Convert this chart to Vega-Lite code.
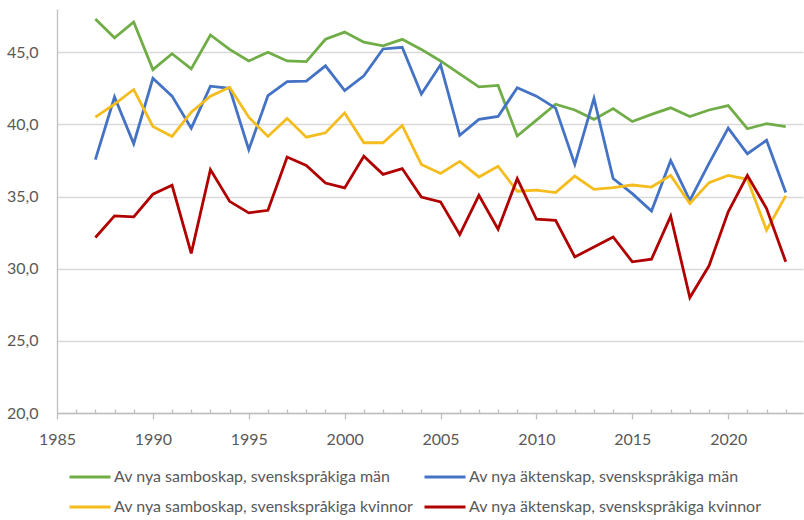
{
  "$schema": "https://vega.github.io/schema/vega-lite/v6.json",
  "width": 746,
  "height": 404,
  "autosize": {"type": "none"},
  "padding": {"left": 57, "top": 9, "right": 1, "bottom": 107},
  "background": "white",
  "config": {
    "view": {"stroke": null},
    "font": "Lato",
    "axis": {"labelFont": "Lato", "labelFontSize": 16, "labelColor": "#595959", "title": null}
  },
  "data": {
    "values": [
      {"year":1987,"serie":"Av nya samboskap, svenskspråkiga män","value":47.3},
      {"year":1988,"serie":"Av nya samboskap, svenskspråkiga män","value":46.0},
      {"year":1989,"serie":"Av nya samboskap, svenskspråkiga män","value":47.1},
      {"year":1990,"serie":"Av nya samboskap, svenskspråkiga män","value":43.8},
      {"year":1991,"serie":"Av nya samboskap, svenskspråkiga män","value":44.9},
      {"year":1992,"serie":"Av nya samboskap, svenskspråkiga män","value":43.85},
      {"year":1993,"serie":"Av nya samboskap, svenskspråkiga män","value":46.2},
      {"year":1994,"serie":"Av nya samboskap, svenskspråkiga män","value":45.2},
      {"year":1995,"serie":"Av nya samboskap, svenskspråkiga män","value":44.4},
      {"year":1996,"serie":"Av nya samboskap, svenskspråkiga män","value":45.0},
      {"year":1997,"serie":"Av nya samboskap, svenskspråkiga män","value":44.4},
      {"year":1998,"serie":"Av nya samboskap, svenskspråkiga män","value":44.35},
      {"year":1999,"serie":"Av nya samboskap, svenskspråkiga män","value":45.9},
      {"year":2000,"serie":"Av nya samboskap, svenskspråkiga män","value":46.4},
      {"year":2001,"serie":"Av nya samboskap, svenskspråkiga män","value":45.7},
      {"year":2002,"serie":"Av nya samboskap, svenskspråkiga män","value":45.45},
      {"year":2003,"serie":"Av nya samboskap, svenskspråkiga män","value":45.9},
      {"year":2004,"serie":"Av nya samboskap, svenskspråkiga män","value":45.2},
      {"year":2005,"serie":"Av nya samboskap, svenskspråkiga män","value":44.4},
      {"year":2006,"serie":"Av nya samboskap, svenskspråkiga män","value":43.5},
      {"year":2007,"serie":"Av nya samboskap, svenskspråkiga män","value":42.6},
      {"year":2008,"serie":"Av nya samboskap, svenskspråkiga män","value":42.7},
      {"year":2009,"serie":"Av nya samboskap, svenskspråkiga män","value":39.2},
      {"year":2010,"serie":"Av nya samboskap, svenskspråkiga män","value":40.3},
      {"year":2011,"serie":"Av nya samboskap, svenskspråkiga män","value":41.4},
      {"year":2012,"serie":"Av nya samboskap, svenskspråkiga män","value":41.0},
      {"year":2013,"serie":"Av nya samboskap, svenskspråkiga män","value":40.35},
      {"year":2014,"serie":"Av nya samboskap, svenskspråkiga män","value":41.1},
      {"year":2015,"serie":"Av nya samboskap, svenskspråkiga män","value":40.2},
      {"year":2016,"serie":"Av nya samboskap, svenskspråkiga män","value":40.7},
      {"year":2017,"serie":"Av nya samboskap, svenskspråkiga män","value":41.15},
      {"year":2018,"serie":"Av nya samboskap, svenskspråkiga män","value":40.55},
      {"year":2019,"serie":"Av nya samboskap, svenskspråkiga män","value":41.0},
      {"year":2020,"serie":"Av nya samboskap, svenskspråkiga män","value":41.3},
      {"year":2021,"serie":"Av nya samboskap, svenskspråkiga män","value":39.7},
      {"year":2022,"serie":"Av nya samboskap, svenskspråkiga män","value":40.05},
      {"year":2023,"serie":"Av nya samboskap, svenskspråkiga män","value":39.85},

      {"year":1987,"serie":"Av nya äktenskap, svenskspråkiga män","value":37.56},
      {"year":1988,"serie":"Av nya äktenskap, svenskspråkiga män","value":41.9},
      {"year":1989,"serie":"Av nya äktenskap, svenskspråkiga män","value":38.66},
      {"year":1990,"serie":"Av nya äktenskap, svenskspråkiga män","value":43.2},
      {"year":1991,"serie":"Av nya äktenskap, svenskspråkiga män","value":41.96},
      {"year":1992,"serie":"Av nya äktenskap, svenskspråkiga män","value":39.74},
      {"year":1993,"serie":"Av nya äktenskap, svenskspråkiga män","value":42.65},
      {"year":1994,"serie":"Av nya äktenskap, svenskspråkiga män","value":42.5},
      {"year":1995,"serie":"Av nya äktenskap, svenskspråkiga män","value":38.25},
      {"year":1996,"serie":"Av nya äktenskap, svenskspråkiga män","value":42.0},
      {"year":1997,"serie":"Av nya äktenskap, svenskspråkiga män","value":42.97},
      {"year":1998,"serie":"Av nya äktenskap, svenskspråkiga män","value":43.0},
      {"year":1999,"serie":"Av nya äktenskap, svenskspråkiga män","value":44.06},
      {"year":2000,"serie":"Av nya äktenskap, svenskspråkiga män","value":42.35},
      {"year":2001,"serie":"Av nya äktenskap, svenskspråkiga män","value":43.37},
      {"year":2002,"serie":"Av nya äktenskap, svenskspråkiga män","value":45.23},
      {"year":2003,"serie":"Av nya äktenskap, svenskspråkiga män","value":45.35},
      {"year":2004,"serie":"Av nya äktenskap, svenskspråkiga män","value":42.1},
      {"year":2005,"serie":"Av nya äktenskap, svenskspråkiga män","value":44.13},
      {"year":2006,"serie":"Av nya äktenskap, svenskspråkiga män","value":39.24},
      {"year":2007,"serie":"Av nya äktenskap, svenskspråkiga män","value":40.35},
      {"year":2008,"serie":"Av nya äktenskap, svenskspråkiga män","value":40.55},
      {"year":2009,"serie":"Av nya äktenskap, svenskspråkiga män","value":42.54},
      {"year":2010,"serie":"Av nya äktenskap, svenskspråkiga män","value":41.96},
      {"year":2011,"serie":"Av nya äktenskap, svenskspråkiga män","value":41.13},
      {"year":2012,"serie":"Av nya äktenskap, svenskspråkiga män","value":37.23},
      {"year":2013,"serie":"Av nya äktenskap, svenskspråkiga män","value":41.8},
      {"year":2014,"serie":"Av nya äktenskap, svenskspråkiga män","value":36.25},
      {"year":2015,"serie":"Av nya äktenskap, svenskspråkiga män","value":35.2},
      {"year":2016,"serie":"Av nya äktenskap, svenskspråkiga män","value":34.0},
      {"year":2017,"serie":"Av nya äktenskap, svenskspråkiga män","value":37.5},
      {"year":2018,"serie":"Av nya äktenskap, svenskspråkiga män","value":34.74},
      {"year":2019,"serie":"Av nya äktenskap, svenskspråkiga män","value":37.3},
      {"year":2020,"serie":"Av nya äktenskap, svenskspråkiga män","value":39.74},
      {"year":2021,"serie":"Av nya äktenskap, svenskspråkiga män","value":37.97},
      {"year":2022,"serie":"Av nya äktenskap, svenskspråkiga män","value":38.9},
      {"year":2023,"serie":"Av nya äktenskap, svenskspråkiga män","value":35.28},

      {"year":1987,"serie":"Av nya samboskap, svenskspråkiga kvinnor","value":40.5},
      {"year":1988,"serie":"Av nya samboskap, svenskspråkiga kvinnor","value":41.4},
      {"year":1989,"serie":"Av nya samboskap, svenskspråkiga kvinnor","value":42.42},
      {"year":1990,"serie":"Av nya samboskap, svenskspråkiga kvinnor","value":39.86},
      {"year":1991,"serie":"Av nya samboskap, svenskspråkiga kvinnor","value":39.17},
      {"year":1992,"serie":"Av nya samboskap, svenskspråkiga kvinnor","value":40.85},
      {"year":1993,"serie":"Av nya samboskap, svenskspråkiga kvinnor","value":41.96},
      {"year":1994,"serie":"Av nya samboskap, svenskspråkiga kvinnor","value":42.58},
      {"year":1995,"serie":"Av nya samboskap, svenskspråkiga kvinnor","value":40.5},
      {"year":1996,"serie":"Av nya samboskap, svenskspråkiga kvinnor","value":39.17},
      {"year":1997,"serie":"Av nya samboskap, svenskspråkiga kvinnor","value":40.42},
      {"year":1998,"serie":"Av nya samboskap, svenskspråkiga kvinnor","value":39.12},
      {"year":1999,"serie":"Av nya samboskap, svenskspråkiga kvinnor","value":39.42},
      {"year":2000,"serie":"Av nya samboskap, svenskspråkiga kvinnor","value":40.8},
      {"year":2001,"serie":"Av nya samboskap, svenskspråkiga kvinnor","value":38.73},
      {"year":2002,"serie":"Av nya samboskap, svenskspråkiga kvinnor","value":38.73},
      {"year":2003,"serie":"Av nya samboskap, svenskspråkiga kvinnor","value":39.93},
      {"year":2004,"serie":"Av nya samboskap, svenskspråkiga kvinnor","value":37.23},
      {"year":2005,"serie":"Av nya samboskap, svenskspråkiga kvinnor","value":36.6},
      {"year":2006,"serie":"Av nya samboskap, svenskspråkiga kvinnor","value":37.44},
      {"year":2007,"serie":"Av nya samboskap, svenskspråkiga kvinnor","value":36.36},
      {"year":2008,"serie":"Av nya samboskap, svenskspråkiga kvinnor","value":37.1},
      {"year":2009,"serie":"Av nya samboskap, svenskspråkiga kvinnor","value":35.37},
      {"year":2010,"serie":"Av nya samboskap, svenskspråkiga kvinnor","value":35.44},
      {"year":2011,"serie":"Av nya samboskap, svenskspråkiga kvinnor","value":35.28},
      {"year":2012,"serie":"Av nya samboskap, svenskspråkiga kvinnor","value":36.42},
      {"year":2013,"serie":"Av nya samboskap, svenskspråkiga kvinnor","value":35.5},
      {"year":2014,"serie":"Av nya samboskap, svenskspråkiga kvinnor","value":35.62},
      {"year":2015,"serie":"Av nya samboskap, svenskspråkiga kvinnor","value":35.8},
      {"year":2016,"serie":"Av nya samboskap, svenskspråkiga kvinnor","value":35.66},
      {"year":2017,"serie":"Av nya samboskap, svenskspråkiga kvinnor","value":36.47},
      {"year":2018,"serie":"Av nya samboskap, svenskspråkiga kvinnor","value":34.52},
      {"year":2019,"serie":"Av nya samboskap, svenskspråkiga kvinnor","value":35.97},
      {"year":2020,"serie":"Av nya samboskap, svenskspråkiga kvinnor","value":36.47},
      {"year":2021,"serie":"Av nya samboskap, svenskspråkiga kvinnor","value":36.2},
      {"year":2022,"serie":"Av nya samboskap, svenskspråkiga kvinnor","value":32.67},
      {"year":2023,"serie":"Av nya samboskap, svenskspråkiga kvinnor","value":35.05},

      {"year":1987,"serie":"Av nya äktenskap, svenskspråkiga kvinnor","value":32.16},
      {"year":1988,"serie":"Av nya äktenskap, svenskspråkiga kvinnor","value":33.66},
      {"year":1989,"serie":"Av nya äktenskap, svenskspråkiga kvinnor","value":33.59},
      {"year":1990,"serie":"Av nya äktenskap, svenskspråkiga kvinnor","value":35.16},
      {"year":1991,"serie":"Av nya äktenskap, svenskspråkiga kvinnor","value":35.78},
      {"year":1992,"serie":"Av nya äktenskap, svenskspråkiga kvinnor","value":31.06},
      {"year":1993,"serie":"Av nya äktenskap, svenskspråkiga kvinnor","value":36.87},
      {"year":1994,"serie":"Av nya äktenskap, svenskspråkiga kvinnor","value":34.67},
      {"year":1995,"serie":"Av nya äktenskap, svenskspråkiga kvinnor","value":33.87},
      {"year":1996,"serie":"Av nya äktenskap, svenskspråkiga kvinnor","value":34.05},
      {"year":1997,"serie":"Av nya äktenskap, svenskspråkiga kvinnor","value":37.74},
      {"year":1998,"serie":"Av nya äktenskap, svenskspråkiga kvinnor","value":37.16},
      {"year":1999,"serie":"Av nya äktenskap, svenskspråkiga kvinnor","value":35.94},
      {"year":2000,"serie":"Av nya äktenskap, svenskspråkiga kvinnor","value":35.6},
      {"year":2001,"serie":"Av nya äktenskap, svenskspråkiga kvinnor","value":37.79},
      {"year":2002,"serie":"Av nya äktenskap, svenskspråkiga kvinnor","value":36.54},
      {"year":2003,"serie":"Av nya äktenskap, svenskspråkiga kvinnor","value":36.94},
      {"year":2004,"serie":"Av nya äktenskap, svenskspråkiga kvinnor","value":34.97},
      {"year":2005,"serie":"Av nya äktenskap, svenskspråkiga kvinnor","value":34.63},
      {"year":2006,"serie":"Av nya äktenskap, svenskspråkiga kvinnor","value":32.37},
      {"year":2007,"serie":"Av nya äktenskap, svenskspråkiga kvinnor","value":35.09},
      {"year":2008,"serie":"Av nya äktenskap, svenskspråkiga kvinnor","value":32.74},
      {"year":2009,"serie":"Av nya äktenskap, svenskspråkiga kvinnor","value":36.24},
      {"year":2010,"serie":"Av nya äktenskap, svenskspråkiga kvinnor","value":33.43},
      {"year":2011,"serie":"Av nya äktenskap, svenskspråkiga kvinnor","value":33.36},
      {"year":2012,"serie":"Av nya äktenskap, svenskspråkiga kvinnor","value":30.82},
      {"year":2013,"serie":"Av nya äktenskap, svenskspråkiga kvinnor","value":31.5},
      {"year":2014,"serie":"Av nya äktenskap, svenskspråkiga kvinnor","value":32.2},
      {"year":2015,"serie":"Av nya äktenskap, svenskspråkiga kvinnor","value":30.48},
      {"year":2016,"serie":"Av nya äktenskap, svenskspråkiga kvinnor","value":30.66},
      {"year":2017,"serie":"Av nya äktenskap, svenskspråkiga kvinnor","value":33.64},
      {"year":2018,"serie":"Av nya äktenskap, svenskspråkiga kvinnor","value":28.0},
      {"year":2019,"serie":"Av nya äktenskap, svenskspråkiga kvinnor","value":30.2},
      {"year":2020,"serie":"Av nya äktenskap, svenskspråkiga kvinnor","value":33.94},
      {"year":2021,"serie":"Av nya äktenskap, svenskspråkiga kvinnor","value":36.47},
      {"year":2022,"serie":"Av nya äktenskap, svenskspråkiga kvinnor","value":34.17},
      {"year":2023,"serie":"Av nya äktenskap, svenskspråkiga kvinnor","value":30.48}
    ]
  },
  "mark": {"type": "line", "strokeWidth": 2.8, "strokeJoin": "miter", "clip": true},
  "encoding": {
    "x": {
      "field": "year",
      "type": "quantitative",
      "scale": {"domain": [1985, 2023.9], "nice": false, "zero": false},
      "axis": {
        "values": [1985,1986,1987,1988,1989,1990,1991,1992,1993,1994,1995,1996,1997,1998,1999,2000,2001,2002,2003,2004,2005,2006,2007,2008,2009,2010,2011,2012,2013,2014,2015,2016,2017,2018,2019,2020,2021,2022,2023],
        "labelExpr": "datum.value % 5 === 0 ? '' + datum.value : ''",
        "grid": false,
        "domainColor": "#bfbfbf",
        "domainWidth": 1.3,
        "tickColor": "#bfbfbf",
        "tickWidth": 1.3,
        "tickSize": {"condition": {"test": "datum.value % 5 === 0", "value": 6}, "value": -4},
        "labelPadding": 12,
        "labelFlush": false,
        "labelOverlap": false
      }
    },
    "y": {
      "field": "value",
      "type": "quantitative",
      "scale": {"domain": [20, 48], "nice": false, "zero": false},
      "axis": {
        "values": [20, 25, 30, 35, 40, 45],
        "labelExpr": "replace(format(datum.value, '.1f'), '.', ',')",
        "ticks": false,
        "domain": true,
        "domainColor": "#bfbfbf",
        "domainWidth": 1.3,
        "gridColor": "#d9d9d9",
        "gridWidth": 1.3,
        "labelPadding": 19
      }
    },
    "color": {
      "field": "serie",
      "type": "nominal",
      "scale": {
        "domain": [
          "Av nya samboskap, svenskspråkiga män",
          "Av nya äktenskap, svenskspråkiga män",
          "Av nya samboskap, svenskspråkiga kvinnor",
          "Av nya äktenskap, svenskspråkiga kvinnor"
        ],
        "range": ["#70ad47", "#4472c4", "#f4bc1c", "#b00000"]
      },
      "legend": {
        "title": null,
        "orient": "none",
        "legendX": 11,
        "legendY": 446,
        "direction": "horizontal",
        "columns": 2,
        "columnPadding": 4,
        "rowPadding": -6,
        "symbolType": "stroke",
        "symbolSize": 1681,
        "symbolStrokeWidth": 3,
        "labelOffset": 2,
        "labelFont": "Lato",
        "labelFontSize": 16,
        "labelColor": "#595959",
        "labelLimit": 400
      }
    }
  }
}
